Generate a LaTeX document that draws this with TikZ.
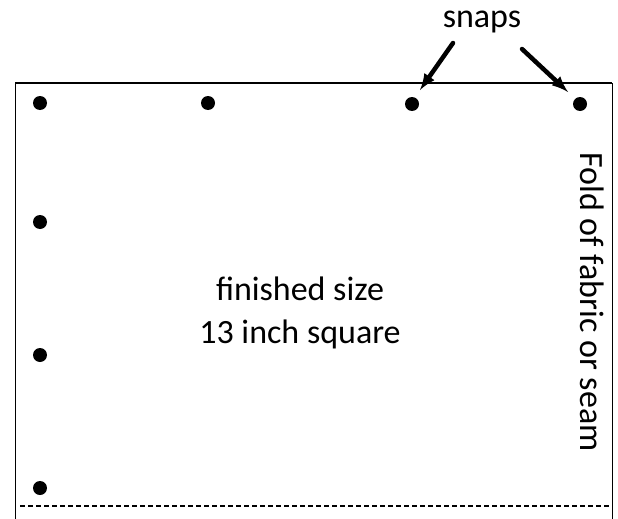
\documentclass[tikz,border=0pt]{standalone}
\usepackage{fontspec}
\setmainfont{Carlito}
\usetikzlibrary{arrows}
\usetikzlibrary{positioning}

\tikzset{snap/.style={circle, fill=black, inner sep=0pt, minimum size=14pt}}
\tikzset{pointer/.style={-latex, line width=4.5pt, line cap=round}}
\tikzset{bigtext/.style={font=\fontsize{34}{43}\selectfont, inner sep=0pt}}

\begin{document}
\begin{tikzpicture}[x=1pt,y=-1pt]
\useasboundingbox (0,0) rectangle (618,519);
% Outline of the cushion (corners)
\coordinate (tl) at (15,83);
\coordinate (tr) at (612,83);
\coordinate (bl) at (15,519);
\coordinate (br) at (612,519);
\draw[line width=2pt] (tl) -- (tr);
\draw[line width=1pt] (tl) -- (bl);
\draw[line width=1pt] (tr) -- (br);
% Dashed edge at the bottom
\coordinate (dl) at (20,506);
\coordinate (dr) at (612,506);
\draw[line width=1.2pt, dash pattern=on 5pt off 3pt] (dl) -- (dr);
% Snaps along the top
\node[snap] (s1) at (40,103) {};
\node[snap] (s2) at (208,103) {};
\node[snap] (s3) at (412,104) {};
\node[snap] (s4) at (580,104) {};
% Snaps down the left side
\node[snap] (s5) at (40,222) {};
\node[snap] (s6) at (40,355) {};
\node[snap] (s7) at (40,488) {};
% Label (node)
\node[bigtext, anchor=base] (snaps) at (482,28) {snaps};
% Arrows from label to snaps
\coordinate (a1) at (453,43);
\coordinate (a2) at (522,49);
\coordinate (t1) at (420,90);
\coordinate (t2) at (568,92);
\draw[pointer] (a1) -- (t1);
\draw[pointer] (a2) -- (t2);
% Middle text (node)
\node[bigtext, anchor=base] (size) at (300,300) {finished size};
\node[bigtext, anchor=base] (square) at (300,343) {13 inch square};
% Side text (node)
\node[bigtext, rotate=-90, anchor=base] (fold) at (580,302)
  {Fold of fabric or seam};
\end{tikzpicture}
\end{document}
